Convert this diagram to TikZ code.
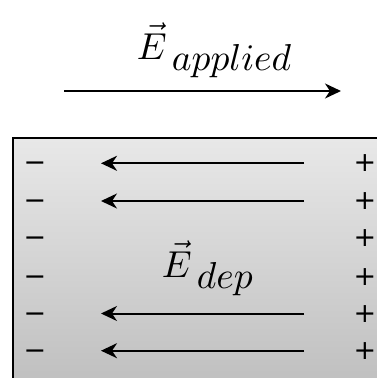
\documentclass[tikz,border=0pt]{standalone}
\usepackage{fontspec}
\newfontfamily\signfont{DejaVu Sans}
\usetikzlibrary{arrows.meta}
\begin{document}
\begin{tikzpicture}[x=1pt,y=-1pt,
  field/.style={line width=2pt,-{Stealth[length=16pt,width=15pt,inset=5pt]}},
  sign/.style={font=\signfont, scale=2.7, inner sep=0pt, anchor=base},
  lbl/.style={scale=3.75, inner sep=0pt, anchor=base west}]
\useasboundingbox (0,0) rectangle (377,378);
\clip (0,0) rectangle (377,378);
\shade[top color=white!91!black, bottom color=white!74!black, draw=black, line width=1.5pt] (13,138) rectangle (395,400);
% applied field
\node[lbl] (eapp) at (136,59) {$\vec{E}\kern1.4pt\raisebox{-3pt}{$applied$}$};
\coordinate (a1) at (64,91);
\coordinate (a2) at (341,91);
\draw[field] (a1) -- (a2);
% depletion field label
\node[lbl] (edep) at (161,277) {$\vec{E}\kern1.4pt\raisebox{-3pt}{$dep$}$};
% charges
\foreach \i/\y in {1/163.3,2/201,3/238.3,4/276.5,5/313.5,6/350.7}{
  \coordinate (c\i) at (0,\y);
  \node[sign] (m\i) at (35,\y+8.5) {−};
  \node[sign] (p\i) at (365,\y+8.5) {+};
}
% arrows
\foreach \i in {1,2,5,6}{
  \coordinate (r\i) at (304,0 |- c\i);
  \coordinate (l\i) at (101,0 |- c\i);
  \draw[field] (r\i) -- (l\i);
}
\end{tikzpicture}
\end{document}
